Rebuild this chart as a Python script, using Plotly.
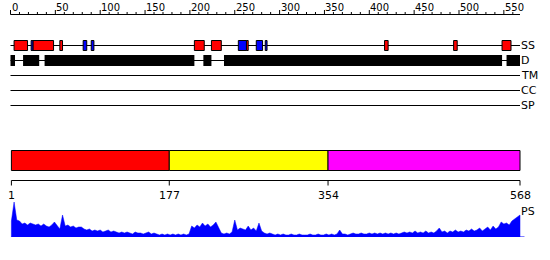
import plotly.graph_objects as go

# ---------------- data ----------------
seq_len = 568
ruler_minor = list(range(0, 561, 10))
ruler_major = list(range(0, 551, 50))
ss_helix = [(4, 19), (25, 48), (55, 58), (205, 216), (224, 235), (263, 265),
            (417, 421), (494, 498), (548, 558)]
ss_strand = [(23, 25), (81, 85), (90, 93), (254, 263), (274, 281), (284, 286)]
disorder = [(0, 5), (14, 32), (38, 205), (215, 224), (238, 548), (553, 568)]
domain_bounds = [1, 177, 354, 568]
track_names = ["SS", "D", "TM", "CC", "SP"]
ps_res = list(range(1, 569, 3))
ps_val = [16, 35, 17, 16, 13, 14, 12, 14, 13, 12, 13, 11, 13, 11, 10, 12, 15, 11, 8, 22,
          11, 12, 10, 11, 9, 10, 10, 8, 7, 8, 6, 7, 6, 7, 5, 6, 7, 5, 6, 5,
          4, 5, 4, 5, 4, 3, 5, 4, 4, 3, 4, 5, 3, 4, 3, 2, 3, 2, 3, 2,
          3, 2, 3, 2, 3, 2, 3, 11, 9, 12, 10, 14, 11, 13, 10, 12, 15, 9, 4, 3,
          4, 3, 5, 17, 7, 9, 8, 7, 11, 7, 9, 6, 14, 6, 4, 3, 4, 3, 2, 3,
          2, 3, 2, 2, 3, 2, 2, 3, 2, 2, 2, 3, 2, 2, 3, 2, 2, 3, 2, 3,
          2, 3, 7, 3, 3, 2, 3, 4, 3, 3, 4, 3, 3, 4, 3, 4, 3, 4, 3, 4,
          3, 4, 3, 4, 3, 4, 5, 4, 5, 4, 6, 4, 5, 4, 6, 4, 5, 4, 6, 9,
          5, 6, 4, 6, 5, 7, 5, 6, 5, 7, 6, 8, 6, 7, 9, 6, 8, 10, 7, 11,
          8, 10, 15, 13, 14, 12, 16, 18, 20, 22]
ps_val = ps_val[:len(ps_res)]

# ---------------- styles / layout ----------------
X0_PX, PX_PER = 10.5, 0.897
W, H = 550, 260
FONT = "DejaVu Sans"

fig = go.Figure()
shapes = []
annos = []

def hline(x0, x1, y, color="black", w=1):
    shapes.append(dict(type="line", xref="x", yref="y", x0=x0, x1=x1, y0=y, y1=y,
                       line=dict(color=color, width=w)))

def vline(x, y0, y1, color="black", w=1):
    shapes.append(dict(type="line", xref="x", yref="y", x0=x, x1=x, y0=y0, y1=y1,
                       line=dict(color=color, width=w)))

def box(x0, x1, y0, y1, fill, border="black", bw=1):
    shapes.append(dict(type="rect", xref="x", yref="y", x0=x0, x1=x1, y0=y0, y1=y1,
                       fillcolor=fill, line=dict(color=border, width=bw)))

# top ruler
ruler_y = 14.5
hline(0, seq_len, ruler_y)
for t in ruler_minor:
    vline(t, ruler_y, ruler_y - (4.5 if t in ruler_major else 2.5))
for t in ruler_major:
    annos.append(dict(x=t, y=7, xref="x", yref="y", text=str(t), showarrow=False,
                      xanchor="left", yanchor="middle", xshift=-1,
                      font=dict(family=FONT, size=10, color="black")))

# tracks
track_y = [45.5, 60.5, 75.5, 90.5, 105.5]
for name, ty in zip(track_names, track_y):
    hline(0, seq_len, ty)
    annos.append(dict(x=seq_len, y=ty, xref="x", yref="y", text=name, showarrow=False,
                      xanchor="left", yanchor="middle", xshift=-1,
                      font=dict(family=FONT, size=11, color="black")))

for a, b in disorder:
    box(a, b, 55, 66, "black", "black", 0)
for a, b in ss_helix:
    box(a, b, 40.5, 50.5, "#ff0000")
for a, b in ss_strand:
    box(a, b, 40.5, 50.5, "#0000ff")

# domain bar
dom_colors = ["#ff0000", "#ffff00", "#ff00ff"]
for i in range(len(domain_bounds) - 1):
    box(domain_bounds[i], domain_bounds[i + 1], 150.5, 170.5, dom_colors[i])

# bottom ruler
bot_y = 180.5
hline(domain_bounds[0], domain_bounds[-1], bot_y)
for t in domain_bounds:
    vline(t, bot_y, bot_y + 5)
    annos.append(dict(x=t, y=195, xref="x", yref="y", text=str(t), showarrow=False,
                      xanchor="center", yanchor="middle",
                      font=dict(family=FONT, size=11, color="black")))

# PS profile
fig.add_trace(go.Scatter(x=[ps_res[0]] + ps_res + [ps_res[-1]],
                         y=[0] + ps_val + [0], mode="lines", fill="tozeroy",
                         fillcolor="#0000ff", line=dict(color="#0000ff", width=0.5),
                         xaxis="x", yaxis="y2", hoverinfo="skip", showlegend=False))
fig.add_trace(go.Scatter(x=[ps_res[0], seq_len + 5], y=[0, 0], mode="lines",
                         line=dict(color="#0000ff", width=1), xaxis="x", yaxis="y2",
                         hoverinfo="skip", showlegend=False))
annos.append(dict(x=seq_len, y=211, xref="x", yref="y", text="PS", showarrow=False,
                  xanchor="left", yanchor="middle", xshift=-1,
                  font=dict(family=FONT, size=11, color="black")))

base_px, top_px = 237, 202
fig.update_layout(
    width=W, height=H, margin=dict(l=0, r=0, t=0, b=0),
    paper_bgcolor="white", plot_bgcolor="white",
    xaxis=dict(range=[-X0_PX / PX_PER, (W - X0_PX) / PX_PER], visible=False, fixedrange=True),
    yaxis=dict(range=[H, 0], visible=False, fixedrange=True),
    yaxis2=dict(domain=[(H - base_px) / H, (H - top_px) / H], range=[0, 35],
                visible=False, anchor="x", fixedrange=True),
    shapes=shapes, annotations=annos, showlegend=False,
)

fig.write_html("out.html")
